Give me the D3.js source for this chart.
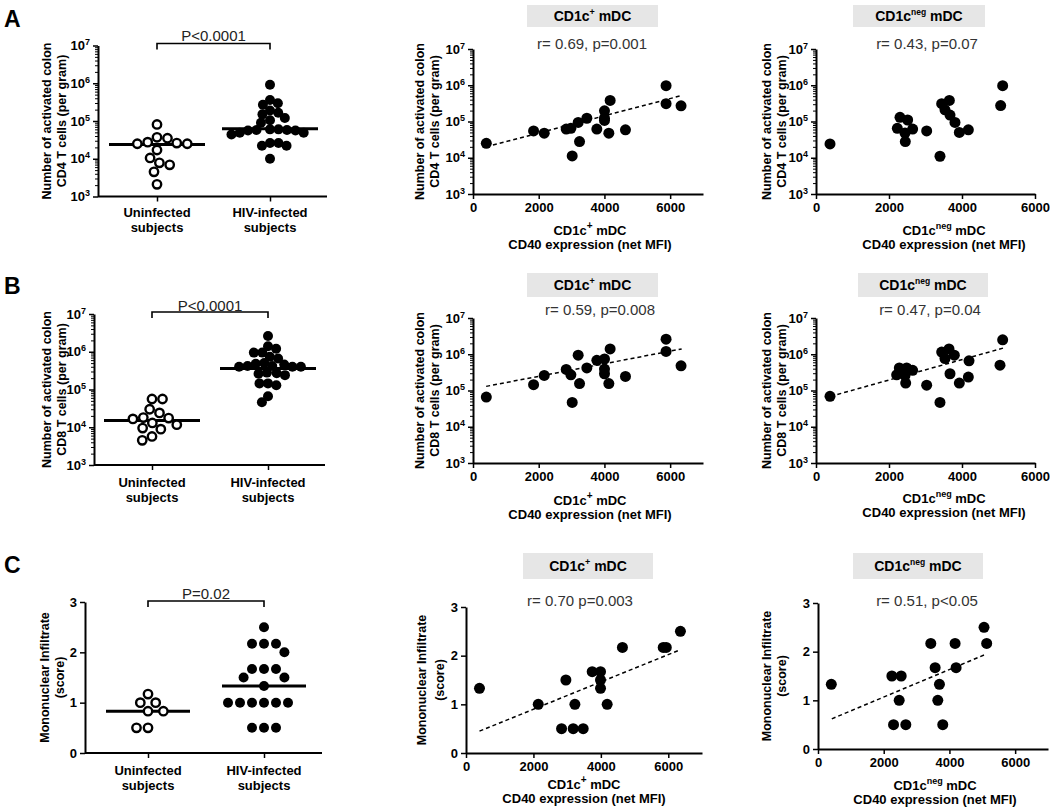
<!DOCTYPE html>
<html><head><meta charset="utf-8">
<script src="https://cdn.jsdelivr.net/npm/d3@7"></script>
<style>
body{margin:0;background:#fff}
svg{display:block}
text{font-family:Arial,"Liberation Sans",sans-serif}
</style>
</head><body>
<svg id="c" width="1050" height="807"></svg>
<script>
// ---------------- DATA ----------------
const groups = ["Uninfected", "HIV-infected"];
const groupLabels = [["Uninfected", "subjects"], ["HIV-infected", "subjects"]];
const logTicks = [1e3, 1e4, 1e5, 1e6, 1e7];
const scoreTicks = [0, 1, 2, 3];
const mfiTicks = [0, 2000, 4000, 6000];

// Panel A left: activated CD4 T cells per gram
const cd4Uninfected = [8.1e4, 3.7e4, 2.75e4, 2.5e4, 2.5e4, 2.6e4, 3.5e4, 1.7e4, 1.05e4, 7.8e3, 6.9e3, 4.5e3, 2.1e3];
const cd4HIV = [9.1e5, 3.6e5, 2.7e5, 2.95e5, 1.66e5, 1.9e5, 1.5e5, 1.05e5, 1.2e5, 9.0e4, 5.6e4, 6.0e4, 5.8e4, 6.0e4, 5.8e4, 5.6e4, 4.9e4, 4.4e4, 4.9e4, 2.6e4, 2.6e4, 2.2e4, 2.2e4, 1.0e4];
const cd4Medians = [2.4e4, 6.25e4];

// Panel B left: activated CD8 T cells per gram
const cd8Uninfected = [5.6e4, 5.6e4, 3.0e4, 2.4e4, 1.75e4, 1.3e4, 1.17e4, 1.66e4, 1.8e4, 8.9e3, 9.5e3, 5.7e3, 4.5e3];
const cd8HIV = [2.6e6, 1.4e6, 1.2e6, 9.5e5, 9.5e5, 6.6e5, 7.4e5, 4.8e5, 4.2e5, 4.0e5, 4.0e5, 4.0e5, 4.2e5, 4.6e5, 5.0e5, 2.6e5, 2.4e5, 2.7e5, 2.8e5, 1.45e5, 1.3e5, 1.45e5, 6.6e4, 4.6e4];
const cd8Medians = [1.5e4, 3.6e5];

// Panel C left: mononuclear infiltrate score
const scoreUninfected = [1.17, 1.0, 1.0, 0.83, 0.83, 0.5, 0.5];
const scoreHIV = [2.5, 2.17, 2.17, 2.17, 2.0, 1.67, 1.67, 1.67, 1.5, 1.5, 1.33, 1.0, 1.0, 1.0, 1.0, 1.0, 1.0, 0.5, 0.5, 0.5];
const scoreMedians = [0.83, 1.33];

// CD1c+ mDC CD40 expression (net MFI)
const posMfiAB = [405, 1844, 2168, 2837, 2979, 3019, 3201, 3242, 3465, 3769, 4002, 4002, 4002, 4134, 4174, 4640, 5876, 5876, 6332];
const posCD4 = [2.5e4, 5.5e4, 4.75e4, 6.2e4, 6.5e4, 1.12e4, 9.4e4, 2.8e4, 1.23e5, 6.2e4, 1.97e5, 1.23e5, 1.07e5, 4.75e4, 3.8e5, 5.9e4, 9.7e5, 3.1e5, 2.7e5];
const posCD8 = [6.6e4, 1.45e5, 2.6e5, 3.8e5, 2.7e5, 4.7e4, 9.4e5, 1.55e5, 4.2e5, 6.8e5, 7.4e5, 3.9e5, 2.9e5, 1.55e5, 1.4e6, 2.45e5, 2.6e6, 1.2e6, 4.8e5];
const posMfiC = [400, 2143, 2835, 2963, 3180, 3230, 3476, 3743, 3990, 3990, 3990, 4187, 4640, 5850, 5940, 6360];
const posScore = [1.33, 1.0, 0.5, 1.5, 0.5, 1.0, 0.5, 1.67, 1.67, 1.5, 1.33, 1.0, 2.17, 2.17, 2.17, 2.5];

// CD1c neg mDC CD40 expression (net MFI)
const negMfiA = [384, 2228, 2301, 2511, 2648, 2438, 2447, 3032, 3397, 3443, 3534, 3653, 3671, 3808, 3927, 4174, 5059, 5114];
const negCD4 = [2.4e4, 6.5e4, 1.3e5, 1.1e5, 6.2e4, 4.8e4, 2.8e4, 5.5e4, 1.1e4, 3.1e5, 2.1e5, 3.8e5, 1.5e5, 9.4e4, 5.0e4, 5.9e4, 2.75e5, 9.7e5];
const negMfiB = [384, 2210, 2283, 2484, 2648, 2438, 2457, 3032, 3397, 3443, 3534, 3644, 3671, 3790, 3927, 4174, 4192, 5041, 5114];
const negCD8 = [6.9e4, 2.7e5, 4.2e5, 4.2e5, 3.6e5, 2.6e5, 1.6e5, 1.4e5, 4.7e4, 1.15e6, 7.6e5, 1.4e6, 2.9e5, 9.4e5, 1.6e5, 2.35e5, 6.6e5, 5.0e5, 2.5e6];
const negMfiC = [405, 2248, 2532, 2299, 2471, 2673, 3433, 3565, 3696, 3646, 3797, 4172, 4203, 5053, 5134];
const negScore = [1.33, 1.5, 1.5, 0.5, 1.0, 0.5, 2.17, 1.67, 1.33, 1.0, 0.5, 2.17, 1.67, 2.5, 2.17];

// regression lines (endpoints): [x, y]
const trendAPos = [[400, 2.0e4], [6350, 5.2e5]];
const trendBPos = [[400, 1.3e5], [6350, 1.4e6]];
const trendBNeg = [[400, 6.9e4], [5130, 1.48e6]];
const trendCPos = [[400, 0.45], [6350, 2.12]];
const trendCNeg = [[420, 0.62], [5120, 1.95]];

const statTexts = ["P<0.0001", "P<0.0001", "P=0.02"];
const corrTexts = ["r= 0.69, p=0.001", "r= 0.43, p=0.07", "r= 0.59, p=0.008", "r= 0.47, p=0.04", "r= 0.70 p=0.003", "r= 0.51, p<0.05"];
const yTitles = {
  cd4: ["Number of activated colon", "CD4 T cells (per gram)"],
  cd8: ["Number of activated colon", "CD8 T cells (per gram)"],
  score: ["Mononuclear Infiltrate", "(score)"]
};

// ---------------- DRAWING ----------------
const svg = d3.select("#c");
const FONT = 'Arial, "Liberation Sans", sans-serif';

function styleAxis(g) {
  g.select(".domain").attr("stroke", "#000").attr("stroke-width", 2);
  g.selectAll(".tick line").attr("stroke", "#000").attr("stroke-width", 1.5);
  g.selectAll(".tick text").attr("font-family", FONT).attr("font-size", 13).attr("font-weight", "bold").attr("fill", "#000");
}

function drawYAxis(x0, y, type) {
  if (type === "log") {
    const minors = [];
    for (let e = 3; e < 7; e++) for (let k = 2; k <= 9; k++) minors.push(k * Math.pow(10, e));
    svg.append("g").attr("transform", `translate(${x0},0)`)
      .call(d3.axisLeft(y).tickValues(minors).tickSize(3).tickFormat(""))
      .call(g => { g.select(".domain").remove(); g.selectAll("line").attr("stroke", "#000").attr("stroke-width", 1); });
    const g = svg.append("g").attr("transform", `translate(${x0},0)`)
      .call(d3.axisLeft(y).tickValues(logTicks).tickSize(5).tickSizeOuter(0).tickPadding(3));
    styleAxis(g);
    g.selectAll(".tick text").each(function (d) {
      const t = d3.select(this);
      t.text(null);
      t.append("tspan").text("10");
      t.append("tspan").attr("font-size", 9).attr("dy", "-0.55em").text(Math.round(Math.log10(d)));
    });
  } else {
    const g = svg.append("g").attr("transform", `translate(${x0},0)`)
      .call(d3.axisLeft(y).tickValues(scoreTicks).tickSize(5).tickSizeOuter(0).tickPadding(3).tickFormat(d3.format("d")));
    styleAxis(g);
  }
}

function yTitle(lines, xs, yc) {
  lines.forEach((s, i) => {
    svg.append("text").attr("transform", `translate(${xs[i]},${yc}) rotate(-90)`)
      .attr("text-anchor", "middle").attr("dominant-baseline", "central")
      .attr("font-size", 12.5).attr("font-weight", "bold").text(s);
  });
}

function swarm(py, minD) {
  const idx = d3.range(py.length).sort((a, b) => py[a] - py[b]);
  const placed = [], off = new Array(py.length);
  let side = 1;
  for (const i of idx) {
    const ivs = [];
    for (const p of placed) {
      const dy = Math.abs(py[i] - p.y);
      if (dy < minD) { const dx = Math.sqrt(minD * minD - dy * dy); ivs.push([p.x - dx, p.x + dx]); }
    }
    const cands = [0];
    ivs.forEach(v => cands.push(v[0], v[1]));
    const ok = c => ivs.every(v => c <= v[0] + 1e-6 || c >= v[1] - 1e-6);
    let best = null;
    cands.filter(ok).forEach(c => {
      if (best === null || Math.abs(c) < Math.abs(best) - 0.5 ||
          (Math.abs(Math.abs(c) - Math.abs(best)) <= 0.5 && Math.sign(c) === side)) best = c;
    });
    if (best !== 0) side = -Math.sign(best);
    off[i] = best; placed.push({ x: best, y: py[i] });
  }
  return off;
}

function groupPanel(cfg) {
  const y = cfg.type === "log"
    ? d3.scaleLog().domain([1e3, 1e7]).range([cfg.yBot, cfg.yTop])
    : d3.scaleLinear().domain([0, 3]).range([cfg.yBot, cfg.yTop]);
  const xs = d3.scalePoint().domain(groups).range(cfg.cats);
  svg.append("line").attr("x1", cfg.x0).attr("x2", cfg.xEnd).attr("y1", cfg.yBot).attr("y2", cfg.yBot)
    .attr("stroke", "#000").attr("stroke-width", 2);
  const gx = svg.append("g").attr("transform", `translate(0,${cfg.yBot})`)
    .call(d3.axisBottom(xs).tickSize(5).tickFormat(""));
  gx.select(".domain").remove();
  gx.selectAll(".tick line").attr("stroke", "#000").attr("stroke-width", 1.5);
  drawYAxis(cfg.x0, y, cfg.type);
  groups.forEach((gname, gi) => {
    groupLabels[gi].forEach((s, li) => {
      svg.append("text").attr("x", xs(gname)).attr("y", cfg.labY[li]).attr("text-anchor", "middle")
        .attr("dominant-baseline", "central").attr("font-size", 13).attr("font-weight", "bold").text(s);
    });
  });
  yTitle(cfg.title, cfg.titleX, (cfg.yTop + cfg.yBot) / 2);
  const r = 5;
  [cfg.open, cfg.filled].forEach((vals, gi) => {
    const py = vals.map(v => y(v));
    const off = swarm(py, cfg.minD[gi]);
    const cx = xs(groups[gi]);
    svg.append("line").attr("x1", cx - cfg.half).attr("x2", cx + cfg.half)
      .attr("y1", y(cfg.medians[gi])).attr("y2", y(cfg.medians[gi]))
      .attr("stroke", "#000").attr("stroke-width", 3);
    svg.append("g").selectAll("circle").data(vals).join("circle")
      .attr("cx", (d, i) => cx + off[i]).attr("cy", (d, i) => py[i])
      .attr("r", gi === 0 ? r - 0.8 : r)
      .attr("fill", gi === 0 ? "#fff" : "#000")
      .attr("stroke", "#000").attr("stroke-width", gi === 0 ? 2.4 : 0);
  });
  const b = cfg.bracket;
  svg.append("path")
    .attr("d", `M${xs(groups[0])},${b + 6}V${b}H${xs(groups[1])}V${b + 6}`)
    .attr("fill", "none").attr("stroke", "#000").attr("stroke-width", 1.6);
  svg.append("text").attr("x", (xs(groups[0]) + xs(groups[1])) / 2).attr("y", cfg.pY)
    .attr("text-anchor", "middle").attr("dominant-baseline", "central")
    .attr("font-size", 15).attr("fill", "#222").text(cfg.pText);
}

function supText(sel, base, sup, rest, size, supSize) {
  sel.append("tspan").text(base);
  sel.append("tspan").attr("font-size", supSize).attr("dy", -size * 0.4).text(sup);
  sel.append("tspan").attr("dy", size * 0.4).text(rest);
}

function scatterPanel(cfg) {
  const x = d3.scaleLinear().domain([0, cfg.xMax]).range([cfg.x0, cfg.xEnd]);
  const y = cfg.type === "log"
    ? d3.scaleLog().domain([1e3, 1e7]).range([cfg.yBot, cfg.yTop])
    : d3.scaleLinear().domain([0, 3]).range([cfg.yBot, cfg.yTop]);
  svg.append("rect").attr("x", cfg.box[0]).attr("y", cfg.box[2])
    .attr("width", cfg.box[1] - cfg.box[0]).attr("height", cfg.box[3] - cfg.box[2]).attr("fill", "#e6e6e6");
  const bt = svg.append("text").attr("x", (cfg.box[0] + cfg.box[1]) / 2).attr("y", (cfg.box[2] + cfg.box[3]) / 2 + 5)
    .attr("text-anchor", "middle").attr("font-size", 14).attr("font-weight", "bold");
  supText(bt, "CD1c", cfg.sup, " mDC", 14, cfg.sup === "+" ? 9 : 8.5);
  svg.append("text").attr("x", cfg.rX).attr("y", cfg.rY).attr("text-anchor", "middle")
    .attr("dominant-baseline", "central").attr("font-size", 15).attr("fill", "#333").text(cfg.rText);
  const gx = svg.append("g").attr("transform", `translate(0,${cfg.yBot})`)
    .call(d3.axisBottom(x).tickValues(mfiTicks).tickSize(5).tickSizeOuter(0).tickPadding(4).tickFormat(d3.format("d")));
  styleAxis(gx);
  drawYAxis(cfg.x0, y, cfg.type);
  const t1 = svg.append("text").attr("x", cfg.xTitleX).attr("y", cfg.xTitleY[0] + 4.5)
    .attr("text-anchor", "middle").attr("font-size", 13).attr("font-weight", "bold");
  supText(t1, "CD1c", cfg.sup, " mDC", 13, cfg.sup === "+" ? 10 : 9);
  svg.append("text").attr("x", cfg.xTitleX).attr("y", cfg.xTitleY[1] + 4.5)
    .attr("text-anchor", "middle").attr("font-size", 13).attr("font-weight", "bold").text("CD40 expression (net MFI)");
  yTitle(cfg.title, cfg.titleX, (cfg.yTop + cfg.yBot) / 2);
  if (cfg.trend) {
    svg.append("line").attr("x1", x(cfg.trend[0][0])).attr("y1", y(cfg.trend[0][1]))
      .attr("x2", x(cfg.trend[1][0])).attr("y2", y(cfg.trend[1][1]))
      .attr("stroke", "#000").attr("stroke-width", 1.5).attr("stroke-dasharray", "4,3");
  }
  svg.append("g").selectAll("circle").data(cfg.xs).join("circle")
    .attr("cx", d => x(d)).attr("cy", (d, i) => y(cfg.ys[i])).attr("r", 5.5).attr("fill", "#000");
}

// panel letters
[["A", 27], ["B", 294], ["C", 573]].forEach(([s, yy]) => {
  svg.append("text").attr("x", 4).attr("y", yy).attr("font-size", 23).attr("font-weight", "bold").text(s);
});

// Row A
groupPanel({ type: "log", x0: 98, xEnd: 327, yTop: 45.5, yBot: 196.5, cats: [157, 270],
  open: cd4Uninfected, filled: cd4HIV, medians: cd4Medians, half: 48, minD: [10.5, 8.5],
  bracket: 43.5, pY: 35, pText: statTexts[0], labY: [212, 227], title: yTitles.cd4, titleX: [47, 62] });
scatterPanel({ type: "log", x0: 473, xEnd: 703, xMax: 7000, yTop: 49, yBot: 194,
  box: [527, 658, 5, 27], sup: "+", rX: 592, rY: 43, rText: corrTexts[0],
  xTitleX: 590, xTitleY: [230, 244], title: yTitles.cd4, titleX: [420, 435],
  xs: posMfiAB, ys: posCD4, trend: trendAPos });
scatterPanel({ type: "log", x0: 816, xEnd: 1035, xMax: 6000, yTop: 49, yBot: 194,
  box: [853, 985, 5, 27], sup: "neg", rX: 927, rY: 43, rText: corrTexts[1],
  xTitleX: 944, xTitleY: [230, 244], title: yTitles.cd4, titleX: [767, 782],
  xs: negMfiA, ys: negCD4, trend: null });

// Row B
groupPanel({ type: "log", x0: 94, xEnd: 325, yTop: 314, yBot: 465, cats: [152, 268],
  open: cd8Uninfected, filled: cd8HIV, medians: cd8Medians, half: 48, minD: [10.5, 8.5],
  bracket: 312, pY: 305, pText: statTexts[1], labY: [482, 497], title: yTitles.cd8, titleX: [47, 62] });
scatterPanel({ type: "log", x0: 473, xEnd: 703, xMax: 7000, yTop: 318, yBot: 463,
  box: [527, 658, 273, 297], sup: "+", rX: 600, rY: 309, rText: corrTexts[2],
  xTitleX: 590, xTitleY: [500, 514], title: yTitles.cd8, titleX: [420, 435],
  xs: posMfiAB, ys: posCD8, trend: trendBPos });
scatterPanel({ type: "log", x0: 816, xEnd: 1035, xMax: 6000, yTop: 318, yBot: 463,
  box: [858, 988, 273, 297], sup: "neg", rX: 930, rY: 309, rText: corrTexts[3],
  xTitleX: 944, xTitleY: [498, 512], title: yTitles.cd8, titleX: [767, 782],
  xs: negMfiB, ys: negCD8, trend: trendBNeg });

// Row C
groupPanel({ type: "linear", x0: 85, xEnd: 322, yTop: 602, yBot: 753, cats: [148, 264],
  open: scoreUninfected, filled: scoreHIV, medians: scoreMedians, half: 42, minD: [11.5, 12],
  bracket: 601, pY: 593, pText: statTexts[2], labY: [770, 785], title: yTitles.score, titleX: [45, 60] });
scatterPanel({ type: "linear", x0: 466, xEnd: 702, xMax: 7000, yTop: 607, yBot: 753,
  box: [523, 653, 553, 579], sup: "+", rX: 580, rY: 600, rText: corrTexts[4],
  xTitleX: 584, xTitleY: [784, 798], title: yTitles.score, titleX: [422, 440],
  xs: posMfiC, ys: posScore, trend: trendCPos });
scatterPanel({ type: "linear", x0: 818, xEnd: 1048, xMax: 7000, yTop: 603, yBot: 749,
  box: [853, 983, 553, 579], sup: "neg", rX: 927, rY: 600, rText: corrTexts[5],
  xTitleX: 935, xTitleY: [785, 799], title: yTitles.score, titleX: [767, 782],
  xs: negMfiC, ys: negScore, trend: trendCNeg });
</script>
</body></html>
